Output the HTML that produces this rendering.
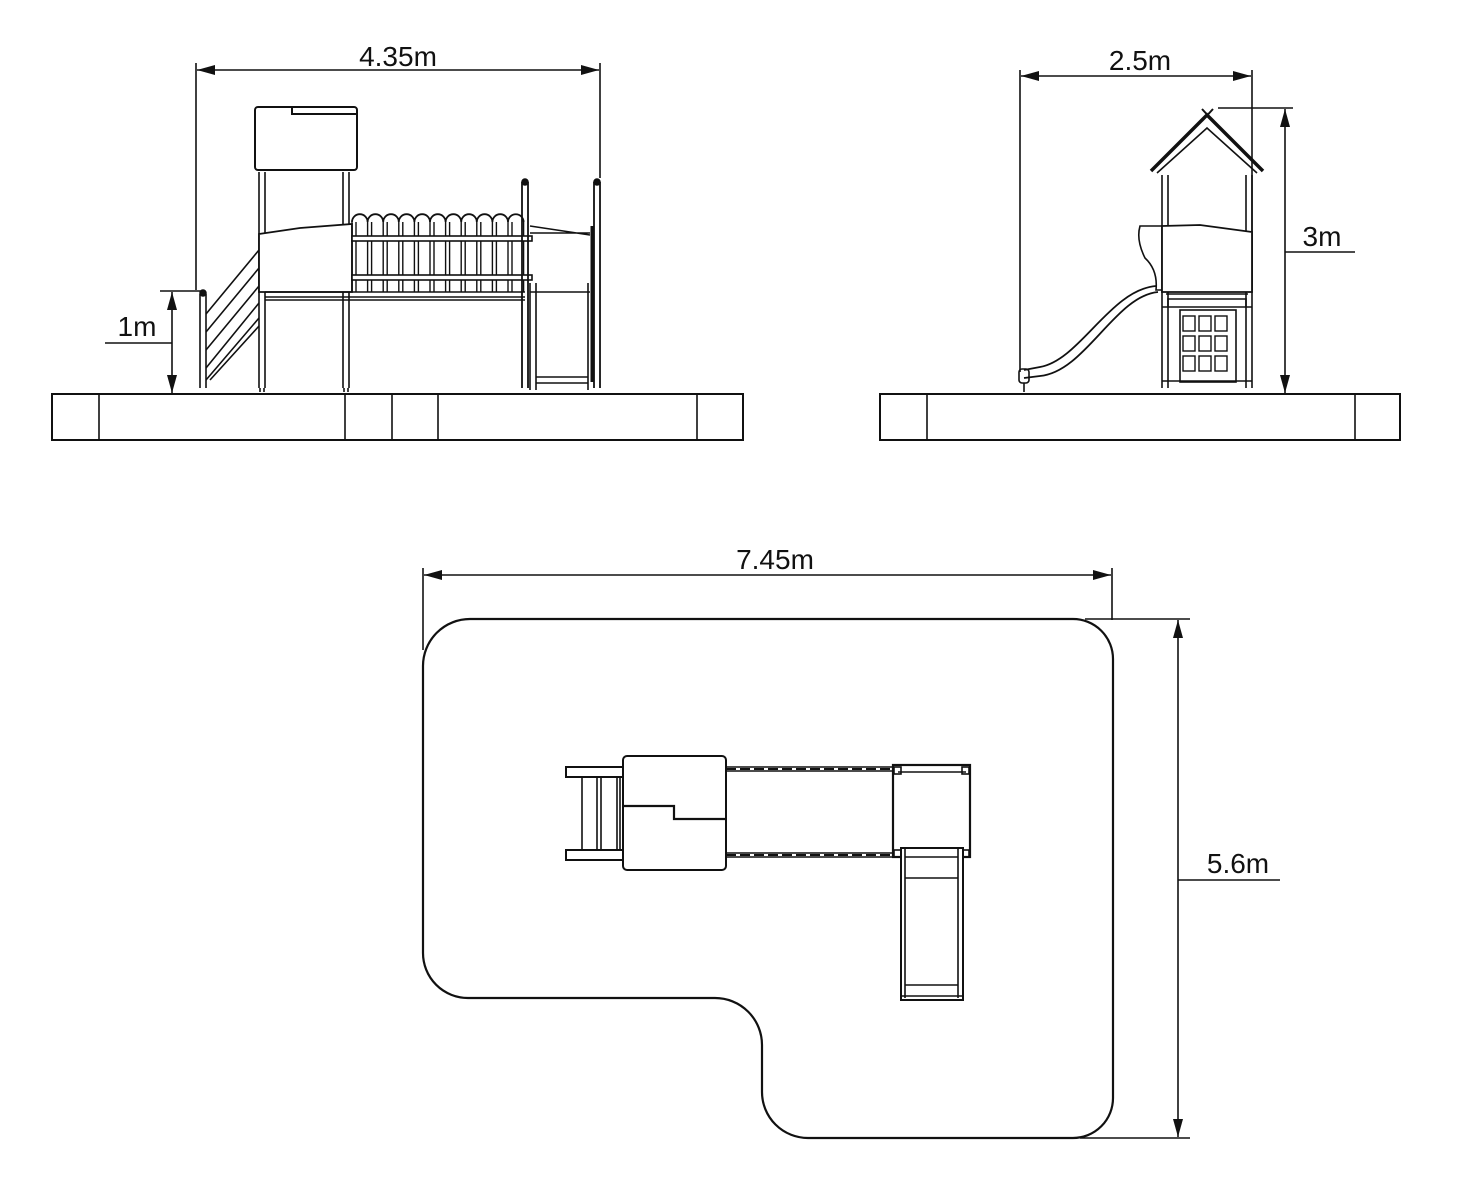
<!DOCTYPE html>
<html><head><meta charset="utf-8"><style>
html,body{margin:0;padding:0;background:#fff;width:1460px;height:1194px;overflow:hidden}
svg{display:block}
text{font-family:"Liberation Sans",sans-serif;font-size:28px;fill:#111}
</style></head><body>
<svg width="1460" height="1194" viewBox="0 0 1460 1194" xmlns="http://www.w3.org/2000/svg">
<defs>
<marker id="a" viewBox="0 0 18 10" refX="18" refY="5" markerWidth="18" markerHeight="10" markerUnits="userSpaceOnUse" orient="auto-start-reverse"><path d="M0,0 L18,5 L0,10 Z" fill="#111"/></marker>
</defs>
<g stroke="#111" fill="none" stroke-width="1.6">
<!-- FRONT VIEW dims -->
<line x1="196" y1="63" x2="196" y2="290"/>
<line x1="600" y1="63" x2="600" y2="178"/>
<line x1="197" y1="70" x2="599" y2="70" marker-start="url(#a)" marker-end="url(#a)"/>
<line x1="160" y1="291" x2="205" y2="291"/>
<line x1="172" y1="292" x2="172" y2="393" marker-start="url(#a)" marker-end="url(#a)"/>
<line x1="105" y1="343" x2="172" y2="343"/>
<!-- base -->
<rect x="52" y="394" width="691" height="46" stroke-width="2"/>
<path d="M99 394V440M345 394V440M392 394V440M438 394V440M697 394V440"/>
<!-- tower roof -->
<rect x="255" y="107" width="102" height="63" rx="3" stroke-width="2"/>
<path d="M292 108V114H357" stroke-width="2"/>
<!-- tower posts -->
<path d="M259 172V388M265 172V388M343 172V388M349 172V388"/>
<path d="M260 388V392M264 388V392M344 388V392M348 388V392"/>
<!-- panel -->
<path d="M259 234 L300 228 L352 224 V292 H259 Z" fill="#fff" stroke-width="1.8"/>
<!-- deck -->
<path d="M265 292H525M265 297H525M265 300H525" />
<!-- stair -->
<path d="M200 294V388M206 294V388" />
<circle cx="203" cy="293" r="3" fill="#111"/>
<path d="M206 314L259 250M206 332L259 268M206 350L259 286M206 368L259 303M206 380L259 318M210 380L259 326"/>
<!-- fence -->
<g stroke-width="1.4">
<path d="M352 222 a7.8 7.8 0 0 1 15.6 0 a7.8 7.8 0 0 1 15.6 0 a7.8 7.8 0 0 1 15.6 0 a7.8 7.8 0 0 1 15.6 0 a7.8 7.8 0 0 1 15.6 0 a7.8 7.8 0 0 1 15.6 0 a7.8 7.8 0 0 1 15.6 0 a7.8 7.8 0 0 1 15.6 0 a7.8 7.8 0 0 1 15.6 0 a7.8 7.8 0 0 1 15.6 0 a7.8 7.8 0 0 1 15.6 0" stroke-width="1.8"/>
<path d="M352 222V292M356 222V292M367.6 222V292M371.6 222V292M383.2 222V292M387.2 222V292M398.8 222V292M402.8 222V292M414.4 222V292M418.4 222V292M430 222V292M434 222V292M445.6 222V292M449.6 222V292M461.2 222V292M465.2 222V292M476.8 222V292M480.8 222V292M492.4 222V292M496.4 222V292M508 222V292M512 222V292M523.6 222V292"/>
</g>
<rect x="352" y="236" width="180" height="5" fill="#fff" stroke-width="1.6"/>
<rect x="352" y="275" width="180" height="5" fill="#fff" stroke-width="1.6"/>
<!-- right posts -->
<path d="M522 182V388M528 182V388M594 182V388M600 182V388" stroke-width="1.8"/>
<circle cx="525" cy="182" r="3" fill="#111"/><circle cx="597" cy="182" r="3" fill="#111"/>
<path d="M530 226 L590 235 M530 233H590 M530 292H590 M530 283V390 M536 283V390 M588 283V390 M536 377H588 M536 383H588"/>
<path d="M592 226V382" stroke-width="3"/>
<!-- SIDE VIEW -->
<line x1="1020" y1="70" x2="1020" y2="372"/>
<line x1="1252" y1="70" x2="1252" y2="290"/>
<line x1="1021" y1="76" x2="1251" y2="76" marker-start="url(#a)" marker-end="url(#a)"/>
<line x1="1218" y1="108" x2="1293" y2="108"/>
<line x1="1285" y1="109" x2="1285" y2="393" marker-start="url(#a)" marker-end="url(#a)"/>
<line x1="1285" y1="252" x2="1355" y2="252"/>
<rect x="880" y="394" width="520" height="46" stroke-width="2"/>
<path d="M927 394V440M1355 394V440"/>
<!-- roof -->
<path d="M1151 171 L1207 115 L1263 171" stroke-width="3.5"/>
<path d="M1157 173 L1207 128 L1257 173"/>
<path d="M1202 109 L1213 121 M1213 109 L1202 121" stroke-width="2"/>
<path d="M1162 175V388M1168 175V388M1246 175V388M1252 175V388"/>
<!-- panel + slide head -->
<path d="M1162 226 L1200 225 L1252 232 V292 H1162 Z" fill="#fff" stroke-width="1.8"/>
<path d="M1162 226 H1140 Q1136 240 1145 258 Q1158 270 1156 290 H1162"/>
<!-- slide -->
<path d="M1156 286 C1110 290 1080 360 1040 367 L1024 370 M1158 292 C1115 296 1085 372 1040 376 L1024 378" stroke-width="1.8"/>
<rect x="1019" y="369" width="10" height="14" rx="3"/>
<path d="M1024 383V392"/>
<!-- under deck -->
<path d="M1166 294H1248M1168 299H1246V307H1168Z M1162 307H1252 M1162 381H1252"/>
<rect x="1180" y="310" width="56" height="72"/>
<g stroke-width="1.4">
<rect x="1183" y="316" width="12" height="15"/><rect x="1199" y="316" width="12" height="15"/><rect x="1215" y="316" width="12" height="15"/>
<rect x="1183" y="336" width="12" height="15"/><rect x="1199" y="336" width="12" height="15"/><rect x="1215" y="336" width="12" height="15"/>
<rect x="1183" y="356" width="12" height="15"/><rect x="1199" y="356" width="12" height="15"/><rect x="1215" y="356" width="12" height="15"/>
</g>
<!-- PLAN VIEW -->
<line x1="423" y1="568" x2="423" y2="650"/>
<line x1="1112" y1="568" x2="1112" y2="620"/>
<line x1="424" y1="575" x2="1111" y2="575" marker-start="url(#a)" marker-end="url(#a)"/>
<line x1="1085" y1="619" x2="1190" y2="619"/>
<line x1="1080" y1="1138" x2="1190" y2="1138"/>
<line x1="1178" y1="620" x2="1178" y2="1137" marker-start="url(#a)" marker-end="url(#a)"/>
<line x1="1178" y1="880" x2="1280" y2="880"/>
<path d="M470 619 H1073 A40 40 0 0 1 1113 659 V1098 A40 40 0 0 1 1073 1138 H808 A46 46 0 0 1 762 1092 V1045 A47 47 0 0 0 715 998 H468 A45 45 0 0 1 423 953 V666 A47 47 0 0 1 470 619 Z" stroke-width="2.2"/>
<!-- ladder -->
<rect x="566" y="767" width="58" height="10" stroke-width="2"/>
<rect x="566" y="850" width="58" height="10" stroke-width="2"/>
<path d="M582 777V850M597 777V850M601 777V850M617 777V850M620 777V850"/>
<!-- tower roof -->
<rect x="623" y="756" width="103" height="114" rx="4" fill="#fff" stroke-width="2"/>
<path d="M623 806H674V819H726" stroke-width="2.2"/>
<!-- bridge -->
<path d="M726 767H894M726 771H894M726 853H894M726 857H894" />
<path d="M726 769H894M726 855H894" stroke-dasharray="10 4" stroke-width="2"/>
<!-- platform -->
<rect x="893" y="765" width="77" height="92" stroke-width="2.2"/>
<path d="M898 772H966"/>
<rect x="894" y="767" width="7" height="7"/><rect x="962" y="767" width="7" height="7"/>
<rect x="894" y="850" width="7" height="7"/><rect x="962" y="850" width="7" height="7"/>
<!-- slide -->
<rect x="901" y="848" width="62" height="152" fill="#fff" stroke-width="2"/>
<path d="M905 848V998M958 848V998M905 857H958M905 878H958M905 985H958M901 996H963" stroke-width="1.6"/>
</g>
<text x="398" y="66" text-anchor="middle">4.35m</text>
<text x="137" y="336" text-anchor="middle">1m</text>
<text x="1140" y="70" text-anchor="middle">2.5m</text>
<text x="1322" y="246" text-anchor="middle">3m</text>
<text x="775" y="569" text-anchor="middle">7.45m</text>
<text x="1238" y="873" text-anchor="middle">5.6m</text>
</svg>
</body></html>
